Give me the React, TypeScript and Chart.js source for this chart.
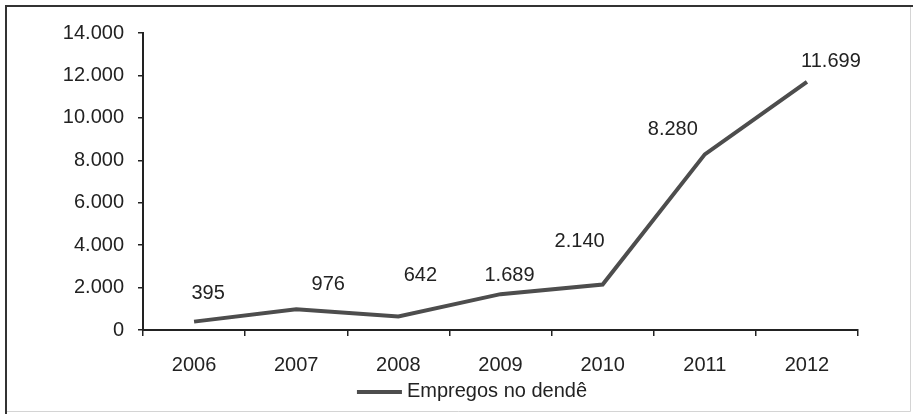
import { useEffect, useRef } from 'react';
import { Chart, registerables } from 'chart.js';

Chart.register(...registerables);

// Employment in palm-oil (dendê) production, by year
const years = ['2006', '2007', '2008', '2009', '2010', '2011', '2012'];
const empregos = [395, 976, 642, 1689, 2140, 8280, 11699];
const seriesName = 'Empregos no dendê';

// Value-axis range
const yMin = 0;
const yMax = 14000;
const yStep = 2000;

// Value labels sit above their points, nudged sideways/upwards (px)
const labelShiftX = [14, 32, 22, 9, -23, -32, 24];
const labelShiftY = [-28, -25, -41, -19, -43, -25, -20];

const FONT = '"Liberation Sans", Arial, sans-serif';
const FONT_SIZE = 20;
const TEXT = '#222222';
const LINE = '#4d4d4d';
const AXIS = '#222222';

// Brazilian thousands separator: 14000 -> 14.000
const fmt = (v: number) => String(Math.round(v)).replace(/\B(?=(\d{3})+(?!\d))/g, '.');

const framePlugin = {
  id: 'frame',
  beforeDraw(chart: any) {
    const { ctx, width, height } = chart;
    ctx.save();
    ctx.fillStyle = '#ffffff';
    ctx.fillRect(0, 0, width, height);
    // faint right/bottom edges
    ctx.strokeStyle = '#d4d4d4';
    ctx.lineWidth = 1;
    ctx.beginPath();
    ctx.moveTo(910.5, 6);
    ctx.lineTo(910.5, 411.5);
    ctx.lineTo(6, 411.5);
    ctx.stroke();
    // dark left/top edges
    ctx.strokeStyle = '#333333';
    ctx.lineWidth = 2;
    ctx.beginPath();
    ctx.moveTo(6, height);
    ctx.lineTo(6, 6);
    ctx.lineTo(width, 6);
    ctx.stroke();
    ctx.restore();
  },
};

const valueLabelPlugin = {
  id: 'valueLabels',
  afterDatasetsDraw(chart: any) {
    const { ctx } = chart;
    const meta = chart.getDatasetMeta(0);
    ctx.save();
    ctx.font = `${FONT_SIZE}px ${FONT}`;
    ctx.fillStyle = TEXT;
    ctx.textAlign = 'center';
    ctx.textBaseline = 'middle';
    meta.data.forEach((pt: any, i: number) => {
      ctx.fillText(fmt(empregos[i]), pt.x + labelShiftX[i], pt.y + labelShiftY[i]);
    });
    ctx.restore();
  },
};

// Legend drawn below the category axis: a short line sample followed by the series name
const legendPlugin = {
  id: 'seriesLegend',
  afterDraw(chart: any) {
    const { ctx, chartArea } = chart;
    const ds = chart.data.datasets[0];
    const sampleW = 45;
    const gap = 5;
    ctx.save();
    ctx.font = `${FONT_SIZE}px ${FONT}`;
    const textW = ctx.measureText(ds.label).width;
    const total = sampleW + gap + textW;
    const cx = (chartArea.left + chartArea.right) / 2 + 0;
    const left = cx - total / 2 + (472 - (chartArea.left + chartArea.right) / 2);
    const y = chartArea.bottom + 62;
    ctx.strokeStyle = ds.borderColor;
    ctx.lineWidth = 4;
    ctx.beginPath();
    ctx.moveTo(left, y);
    ctx.lineTo(left + sampleW, y);
    ctx.stroke();
    ctx.fillStyle = TEXT;
    ctx.textAlign = 'left';
    ctx.textBaseline = 'middle';
    ctx.fillText(ds.label, left + sampleW + gap, y - 1);
    ctx.restore();
  },
};

export default function App() {
  const canvasRef = useRef<HTMLCanvasElement | null>(null);

  useEffect(() => {
    const canvas = canvasRef.current;
    if (!canvas) return;
    const chart = new Chart(canvas, {
      type: 'line',
      data: {
        labels: years,
        datasets: [
          {
            label: seriesName,
            data: empregos,
            borderColor: LINE,
            backgroundColor: LINE,
            borderWidth: 4,
            pointRadius: 0,
            pointHoverRadius: 0,
            tension: 0,
            fill: false,
          },
        ],
      },
      options: {
        responsive: false,
        animation: false,
        events: [],
        layout: { padding: { left: 0, right: 55, top: 33, bottom: 38 } },
        scales: {
          x: {
            type: 'category',
            offset: true,
            afterFit(scale: any) {
              scale.height = 46;
            },
            grid: {
              offset: true,
              drawOnChartArea: false,
              drawTicks: true,
              tickLength: 6,
              color: AXIS,
              lineWidth: 1.5,
            },
            border: { display: true, color: AXIS, width: 2 },
            ticks: {
              color: TEXT,
              font: { family: FONT, size: FONT_SIZE },
              padding: 17,
              maxRotation: 0,
            },
          },
          y: {
            min: yMin,
            max: yMax,
            afterFit(scale: any) {
              scale.width = 143;
            },
            grid: {
              drawOnChartArea: false,
              drawTicks: true,
              tickLength: 5,
              color: AXIS,
              lineWidth: 1.5,
            },
            border: { display: true, color: AXIS, width: 2 },
            ticks: {
              stepSize: yStep,
              color: TEXT,
              font: { family: FONT, size: FONT_SIZE },
              padding: 14,
              callback: (v: any) => fmt(Number(v)),
            },
          },
        },
        plugins: {
          legend: { display: false },
          tooltip: { enabled: false },
        },
      },
      plugins: [framePlugin, valueLabelPlugin, legendPlugin],
    } as any);
    return () => chart.destroy();
  }, []);

  return (
    <div style={{ position: 'fixed', left: 0, top: 0, width: 913, height: 414 }}>
      <canvas ref={canvasRef} width={913} height={414} style={{ display: 'block' }} />
    </div>
  );
}
